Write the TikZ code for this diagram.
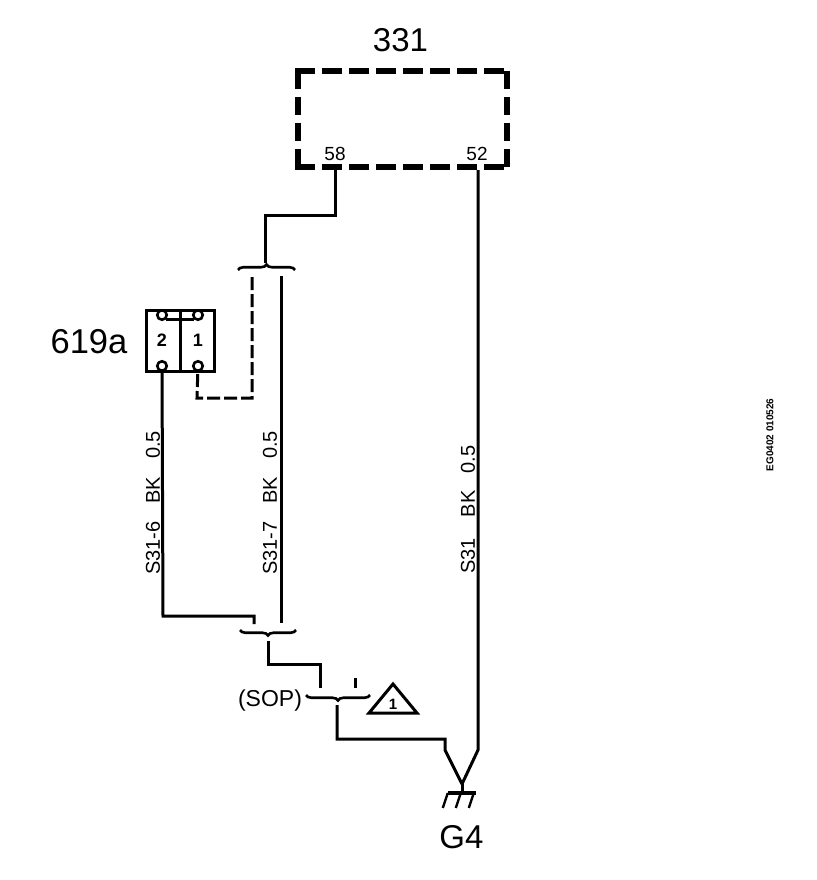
\documentclass[tikz,border=0pt]{standalone}
\usepackage{fontspec}
\setmainfont{Liberation Sans}
\usetikzlibrary{decorations.pathreplacing}
\tikzset{x=1pt, y=-1pt, wire/.style={line width=3pt, line join=miter},
  dashwire/.style={wire, dash pattern=on 13pt off 4pt},
  moduleside/.style={line width=6pt, line cap=butt},
  splice/.style={line width=2.6pt, decorate, decoration={brace, amplitude=5.5pt}},
  splicedown/.style={line width=2.6pt, decorate, decoration={brace, mirror, amplitude=5.5pt}},
  pinhole/.style={circle, draw, line width=2.6pt, fill=white, inner sep=0pt, minimum size=9.5pt},
  bigtext/.style={font=\fontsize{33}{33}\selectfont, inner sep=0pt},
  wiretext/.style={font=\fontsize{20}{20}\selectfont, inner sep=0pt, rotate=90, anchor=west},
  pintext/.style={font=\fontsize{19}{19}\selectfont, inner sep=0pt}}

\begin{document}
\begin{tikzpicture}
  \useasboundingbox (0,0) rectangle (816,880);

  % module 331
  \node (M) [minimum width=209pt, minimum height=96pt, inner sep=0pt] at (402.5,119) {};
  \node (M title) [bigtext] at (400.5,40) {331};
  \draw[moduleside, dash pattern=on 20pt off 7pt] ([xshift=-3pt]M.north west) -- ([xshift=3pt]M.north east);
  \draw[moduleside, dash pattern=on 20pt off 7pt] ([xshift=-3pt]M.south west) -- ([xshift=3pt]M.south east);
  \draw[moduleside, dash pattern=on 18pt off 8pt] (M.north west) -- (M.south west);
  \draw[moduleside, dash pattern=on 18pt off 8pt] (M.north east) -- (M.south east);
  \node (P58) [pintext] at (335,154) {58};
  \node (P52) [pintext] at (477,154) {52};
  \coordinate (M58) at (335,170);
  \coordinate (M52) at (478,170);

  % connector 619a
  \node (C) [draw, line width=3pt, minimum width=68pt, minimum height=61pt, inner sep=0pt] at (180.5,340.5) {};
  \node (C name) [bigtext, font=\fontsize{34.5}{34.5}\selectfont] at (89,342) {619a};
  \draw[line width=3pt] (C.north) -- (C.south);
  \node (T2) [pinhole] at (162,315) {};
  \node (T1) [pinhole] at (198,315) {};
  \draw[line width=2.6pt] (T2.south east) -- (T1.south west);
  \node (B2) [pinhole] at (162,366) {};
  \node (B1) [pinhole] at (198,366) {};
  \node (N2) [pintext, font=\bfseries\fontsize{18}{18}\selectfont] at (162,340) {2};
  \node (N1) [pintext, font=\bfseries\fontsize{18}{18}\selectfont] at (198,340) {1};

  % splices
  \coordinate (S1l) at (238,270);
  \coordinate (S1r) at (295,270);
  \coordinate (S1) at (265,263);
  \coordinate (S2l) at (240,630);
  \coordinate (S2r) at (296,630);
  \coordinate (S2) at (268,641);
  \coordinate (S3l) at (306,695);
  \coordinate (S3r) at (370,695);
  \coordinate (S3) at (337,705);
  \draw[splice] (S1l) -- (S1r);
  \draw[splicedown] (S2l) -- (S2r);
  \draw[splicedown] (S3l) -- (S3r);

  % wires
  \coordinate (A) at (335,215);
  \coordinate (B) at (265,215);
  \draw[wire] (M58) -- (A) -- (B) -- (S1);
  \coordinate (D1) at (252,277);
  \coordinate (D2) at (252,398);
  \coordinate (D3) at (197,398);
  \draw[dashwire] (D1) -- (D2) -- (D3) -- (B1);
  \coordinate (W7t) at (281,276);
  \coordinate (W7b) at (281,623);
  \draw[wire] (W7t) -- (W7b);
  \coordinate (W6a) at (163,616);
  \coordinate (W6b) at (254,616);
  \coordinate (W6c) at (254,624);
  \draw[wire] (B2) -- (W6a) -- (W6b) -- (W6c);
  \coordinate (E) at (268,664);
  \coordinate (F) at (320,664);
  \coordinate (H) at (320,688);
  \draw[wire] (S2) -- (E) -- (F) -- (H);
  \coordinate (I) at (355,678);
  \coordinate (J) at (355,688);
  \draw[wire] (I) -- (J);

  % ground
  \coordinate (K) at (337,739);
  \coordinate (L) at (445,739);
  \coordinate (L2) at (445,750);
  \coordinate (R) at (478,750);
  \coordinate (Apex) at (462,784);
  \node (Gnd) [minimum width=28pt, minimum height=0pt, inner sep=0pt] at (462,793) {};
  \draw[wire] (S3) -- (K) -- (L) -- (L2) -- (Apex);
  \draw[wire] (M52) -- (R) -- (Apex);
  \draw[wire] (Apex) -- (Gnd.center);
  \draw[line width=3.5pt] (Gnd.west) -- (Gnd.east);
  \foreach \i in {0,13,26} {
    \draw[line width=2.4pt] ([xshift=\i pt]Gnd.west) -- ++(-5,15);
  }
  \node (G4) [bigtext] at (461.5,837) {G4};

  % sop and note
  \node (SOP) [font=\fontsize{23}{23}\selectfont, inner sep=0pt] at (270,701) {(SOP)};
  \coordinate (Na) at (393,684);
  \coordinate (Nb) at (369,713);
  \coordinate (Nc) at (417,713);
  \draw[wire] (Na) -- (Nb) -- (Nc) -- cycle;
  \node (Note1) [pintext, font=\bfseries\fontsize{15}{15}\selectfont] at (393,704) {1};

  % wire labels
  \node (L6) [wiretext] at (153,575) {S31-6\hspace{18pt}BK\hspace{18pt}0.5};
  \node (L7) [wiretext] at (270,575) {S31-7\hspace{18pt}BK\hspace{18pt}0.5};
  \node (L31) [wiretext] at (468,574) {S31\hspace{21pt}BK\hspace{17pt}0.5};
  \node (Code) [font=\bfseries\fontsize{10}{10}\selectfont, inner sep=0pt, rotate=90] at (770,435) {EG0402 010526};
\end{tikzpicture}
\end{document}
